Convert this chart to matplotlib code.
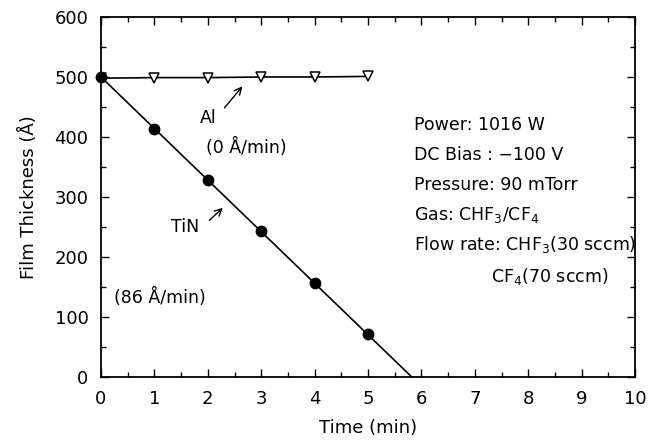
import matplotlib
matplotlib.use("Agg")
import matplotlib.pyplot as plt
from matplotlib.ticker import MultipleLocator

# data
time_min = [0, 1, 2, 3, 4, 5]
al_thick = [498, 499, 499, 500, 500, 501]
tin_thick = [500, 414, 329, 243, 157, 71]
tin_fit_x = [0, 5.82]
tin_fit_y = [500, 0]

plt.rcParams['font.family'] = ['DejaVu Sans']
plt.rcParams['font.size'] = 12.5
plt.rcParams['mathtext.fontset'] = 'dejavusans'

fig = plt.figure(figsize=(6.53, 4.42), dpi=100)
ax = fig.add_axes([101 / 653, 1 - 377 / 442, 534 / 653, 360 / 442])

ax.plot(tin_fit_x, tin_fit_y, color='black', lw=1.2, zorder=2)
ax.plot(time_min, al_thick, color='black', lw=1.2, marker='v',
        mfc='white', mec='black', ms=7, mew=1.1, zorder=2)
ax.plot(time_min, tin_thick, 'o', color='black', ms=7.5, zorder=3, clip_on=False)

ax.set_xlim(0, 10)
ax.set_ylim(0, 600)
ax.xaxis.set_major_locator(MultipleLocator(1))
ax.xaxis.set_minor_locator(MultipleLocator(0.5))
ax.yaxis.set_major_locator(MultipleLocator(100))
ax.yaxis.set_minor_locator(MultipleLocator(50))
ax.tick_params(which='both', direction='in', top=True, right=True, width=1.0,
               labelsize=13)
ax.tick_params(which='major', length=6, pad=9)
ax.tick_params(which='minor', length=3.5)
for s in ax.spines.values():
    s.set_linewidth(1.3)

ax.set_xlabel('Time (min)', labelpad=8, fontsize=13)
ax.set_ylabel('Film Thickness (Å)', labelpad=12, fontsize=13)

# annotations
ax.text(2.0, 432, 'Al', ha='center', va='center')
ax.annotate('', xy=(2.68, 488), xytext=(2.28, 445),
            arrowprops=dict(arrowstyle='->', color='black', lw=1.0))
ax.text(2.72, 382, '(0 Å/min)', ha='center', va='center')

ax.text(1.58, 250, 'TiN', ha='center', va='center')
ax.annotate('', xy=(2.32, 285), xytext=(1.99, 258),
            arrowprops=dict(arrowstyle='->', color='black', lw=1.0))
ax.text(0.25, 133, '(86 Å/min)', ha='left', va='center')

info = ['Power: 1016 W',
        'DC Bias : \u2212100 V',
        'Pressure: 90 mTorr',
        'Gas: CHF$_3$/CF$_4$',
        'Flow rate: CHF$_3$(30 sccm)']
for i, line in enumerate(info):
    ax.text(5.87, 420 - 50 * i, line, ha='left', va='center')
ax.text(7.3, 168, 'CF$_4$(70 sccm)', ha='left', va='center')

fig.savefig('out.png', dpi=100)
